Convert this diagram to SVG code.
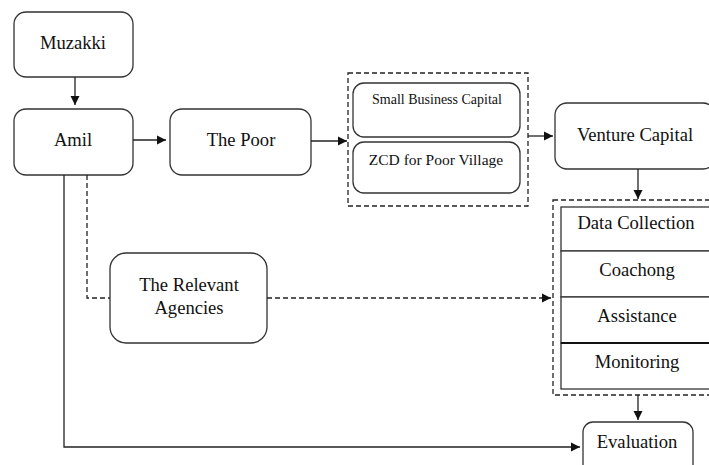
<svg xmlns="http://www.w3.org/2000/svg" width="709" height="465" viewBox="0 0 709 465">
<style>
.n{fill:#fff;stroke:#333;stroke-width:1.3}
.d{fill:none;stroke:#222;stroke-width:1.3;stroke-dasharray:5,3}
.c{fill:none;stroke:#222;stroke-width:1.3}
.cd{fill:none;stroke:#222;stroke-width:1.3;stroke-dasharray:5,3}
text{font-family:"Liberation Serif","Times New Roman",serif;font-size:18.6px;fill:#111;text-anchor:middle}
.s{font-size:14px}
.m{font-size:15.5px}
</style>
<defs>
<marker id="a" markerWidth="10" markerHeight="10" refX="9" refY="5" orient="auto" markerUnits="userSpaceOnUse">
<path d="M0,0.5 L9,5 L0,9.5 Z" fill="#111"/>
</marker>
</defs>
<g id="muzakki"><rect class="n" x="14" y="12" width="119" height="65" rx="12"/><text x="73" y="49">Muzakki</text></g>
<g id="amil"><rect class="n" x="14" y="109" width="119" height="66" rx="12"/><text x="73" y="146">Amil</text></g>
<g id="the-poor"><rect class="n" x="170" y="109" width="141" height="66" rx="12"/><text x="241" y="146">The Poor</text></g>
<g id="capital-group"><rect class="d" x="348" y="73" width="180" height="133"/></g>
<g id="small-business"><rect class="n" x="353" y="83" width="167" height="54" rx="11"/><text class="s" x="437" y="104">Small Business Capital</text></g>
<g id="zcd"><rect class="n" x="353" y="142" width="167" height="51" rx="11"/><text class="m" x="436" y="165">ZCD for Poor Village</text></g>
<g id="venture-capital"><rect class="n" x="555" y="103" width="160" height="66" rx="12"/><text x="635" y="141">Venture Capital</text></g>
<g id="relevant-agencies"><rect class="n" x="110" y="253" width="157" height="90" rx="16"/><text x="189" y="291">The Relevant</text><text x="189" y="314">Agencies</text></g>
<g id="activities-group"><rect class="d" x="553" y="200" width="170" height="195"/></g>
<g id="data-collection"><rect class="n" x="561" y="207" width="160" height="44"/><text x="636" y="229">Data Collection</text></g>
<g id="coachong"><rect class="n" x="561" y="251" width="160" height="46"/><text x="637" y="276">Coachong</text></g>
<g id="assistance"><rect class="n" x="561" y="297" width="160" height="46"/><text x="637" y="322">Assistance</text></g>
<g id="monitoring"><rect class="n" x="561" y="343" width="160" height="46"/><line x1="561" y1="343" x2="709" y2="343" stroke="#111" stroke-width="2"/><text x="637" y="368">Monitoring</text></g>
<g id="evaluation"><rect class="n" x="583" y="422" width="110" height="60" rx="10"/><text x="637" y="448">Evaluation</text></g>
<g id="connectors">
<line class="c" x1="75" y1="77" x2="75" y2="105" marker-end="url(#a)"/>
<line class="c" x1="133" y1="140" x2="166" y2="140" marker-end="url(#a)"/>
<line class="c" x1="311" y1="141" x2="347" y2="141" marker-end="url(#a)"/>
<line class="c" x1="528" y1="136" x2="553" y2="136" marker-end="url(#a)"/>
<line class="c" x1="638" y1="169" x2="638" y2="199" marker-end="url(#a)"/>
<line class="c" x1="638" y1="395" x2="638" y2="420" marker-end="url(#a)"/>
<polyline class="c" points="64,175 64,447 580,447" marker-end="url(#a)"/>
<polyline class="cd" points="87,175 87,298 110,298"/>
<line class="cd" x1="267" y1="298" x2="551" y2="298" marker-end="url(#a)"/>
</g>
</svg>
